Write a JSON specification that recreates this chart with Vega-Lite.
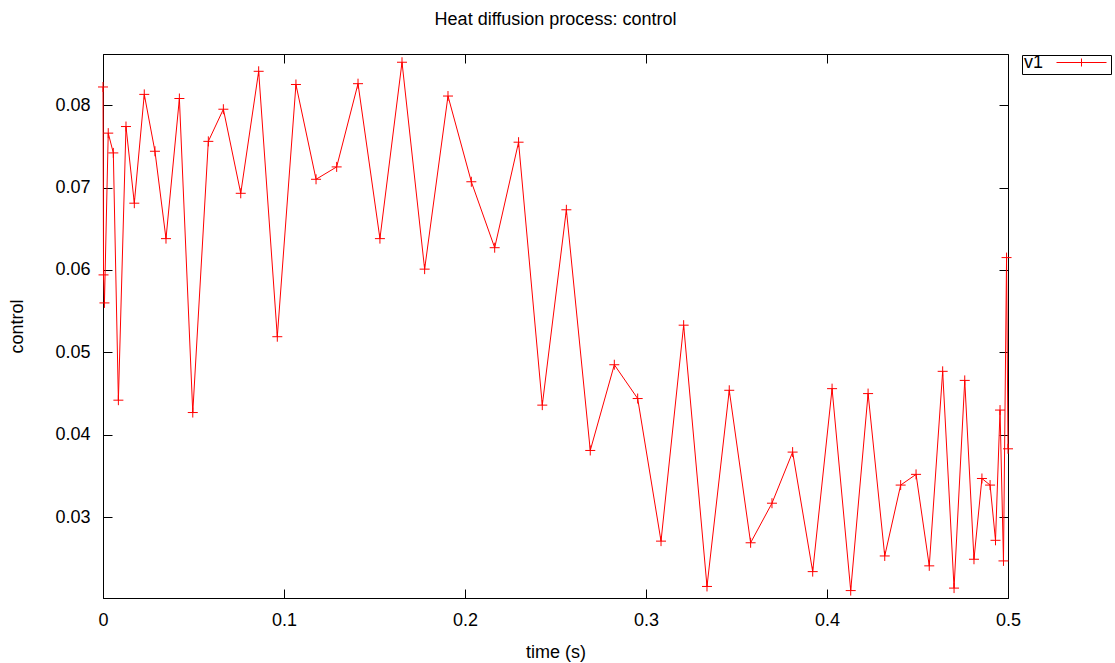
{
  "$schema": "https://vega.github.io/schema/vega-lite/v6.json",
  "autosize": "none",
  "width": 905,
  "height": 544,
  "padding": {"left": 103, "top": 54, "right": 107, "bottom": 65},
  "background": "white",
  "title": {"text": "Heat diffusion process: control", "anchor": "middle", "frame": "group", "font": "Liberation Sans", "fontSize": 18, "fontWeight": "normal", "color": "black", "baseline": "alphabetic", "offset": 11},
  "config": {
    "view": {"stroke": "black", "strokeWidth": 1},
    "axis": {"labelFont": "Liberation Sans", "labelFontSize": 18, "labelColor": "black", "titleFont": "Liberation Sans", "titleFontSize": 18, "titleFontWeight": "normal", "titleColor": "black", "tickColor": "black", "domainColor": "black", "grid": false, "tickSize": -9, "labelPadding": 22, "labelFlush": false}
  },
  "data": {"values": [
    {"time": 0, "control": 0.0822},
    {"time": 0.0003, "control": 0.0594},
    {"time": 0.0008, "control": 0.0560},
    {"time": 0.0029, "control": 0.0766},
    {"time": 0.0057, "control": 0.0742},
    {"time": 0.0085, "control": 0.0442},
    {"time": 0.0127, "control": 0.0774},
    {"time": 0.0173, "control": 0.0681},
    {"time": 0.0228, "control": 0.0813},
    {"time": 0.0287, "control": 0.0744},
    {"time": 0.0348, "control": 0.0638},
    {"time": 0.0422, "control": 0.0808},
    {"time": 0.0496, "control": 0.0427},
    {"time": 0.0582, "control": 0.0756},
    {"time": 0.0665, "control": 0.0795},
    {"time": 0.0761, "control": 0.0693},
    {"time": 0.0860, "control": 0.0841},
    {"time": 0.0963, "control": 0.0519},
    {"time": 0.1066, "control": 0.0825},
    {"time": 0.1177, "control": 0.0710},
    {"time": 0.1291, "control": 0.0725},
    {"time": 0.1409, "control": 0.0826},
    {"time": 0.1530, "control": 0.0638},
    {"time": 0.1652, "control": 0.0852},
    {"time": 0.1777, "control": 0.0601},
    {"time": 0.1906, "control": 0.0811},
    {"time": 0.2035, "control": 0.0707},
    {"time": 0.2164, "control": 0.0627},
    {"time": 0.2296, "control": 0.0755},
    {"time": 0.2427, "control": 0.0436},
    {"time": 0.2560, "control": 0.0673},
    {"time": 0.2692, "control": 0.0381},
    {"time": 0.2825, "control": 0.0485},
    {"time": 0.2954, "control": 0.0444},
    {"time": 0.3083, "control": 0.0271},
    {"time": 0.3208, "control": 0.0533},
    {"time": 0.3337, "control": 0.0216},
    {"time": 0.3460, "control": 0.0454},
    {"time": 0.3578, "control": 0.0269},
    {"time": 0.3696, "control": 0.0317},
    {"time": 0.3810, "control": 0.0379},
    {"time": 0.3921, "control": 0.0234},
    {"time": 0.4028, "control": 0.0456},
    {"time": 0.4131, "control": 0.0211},
    {"time": 0.4227, "control": 0.0450},
    {"time": 0.4319, "control": 0.0253},
    {"time": 0.4407, "control": 0.0339},
    {"time": 0.4492, "control": 0.0352},
    {"time": 0.4565, "control": 0.0241},
    {"time": 0.4639, "control": 0.0477},
    {"time": 0.4702, "control": 0.0214},
    {"time": 0.4761, "control": 0.0466},
    {"time": 0.4812, "control": 0.0249},
    {"time": 0.4856, "control": 0.0347},
    {"time": 0.4901, "control": 0.0339},
    {"time": 0.4931, "control": 0.0272},
    {"time": 0.4956, "control": 0.0430},
    {"time": 0.4975, "control": 0.0247},
    {"time": 0.4992, "control": 0.0615},
    {"time": 0.5, "control": 0.0383}
  ]},
  "layer": [
    {
      "mark": {"type": "line", "color": "#ff0000", "strokeWidth": 1},
      "encoding": {
        "x": {"field": "time", "type": "quantitative", "scale": {"domain": [0, 0.5], "nice": false, "zero": false},
              "axis": {"title": "time (s)", "orient": "bottom", "values": [0, 0.1, 0.2, 0.3, 0.4, 0.5], "labelExpr": "datum.value == 0 ? '0' : format(datum.value, '.1f')", "titlePadding": 14}},
        "y": {"field": "control", "type": "quantitative", "scale": {"domain": [0.0202, 0.0862], "nice": false, "zero": false},
              "axis": {"title": "control", "orient": "left", "values": [0.03, 0.04, 0.05, 0.06, 0.07, 0.08], "format": ".2f", "titlePadding": 28}}
      }
    },
    {
      "mark": {"type": "point", "shape": "M-1,0H1M0,-1V1", "size": 100, "filled": false, "strokeWidth": 1, "opacity": 1},
      "encoding": {
        "x": {"field": "time", "type": "quantitative", "scale": {"domain": [0, 0.5], "nice": false, "zero": false},
              "axis": {"orient": "top", "title": null, "labels": false, "domain": false, "values": [0, 0.1, 0.2, 0.3, 0.4, 0.5]}},
        "y": {"field": "control", "type": "quantitative", "scale": {"domain": [0.0202, 0.0862], "nice": false, "zero": false},
              "axis": {"orient": "right", "title": null, "labels": false, "domain": false, "values": [0.03, 0.04, 0.05, 0.06, 0.07, 0.08]}},
        "color": {"datum": "v1", "type": "nominal", "scale": {"range": ["#ff0000"]},
                  "legend": {"title": "v1", "titleOrient": "left", "titleFont": "Liberation Sans", "titleFontSize": 18, "titleFontWeight": "normal", "titleColor": "black", "titlePadding": 32, "orient": "none", "legendX": 919, "legendY": 1, "symbolType": "M-5,0H5M0,-0.8V0.8", "symbolSize": 100, "symbolStrokeWidth": 1, "symbolStrokeColor": "#ff0000", "symbolFillColor": "transparent", "labelExpr": "''", "labelOffset": 0, "strokeColor": "black", "padding": 2}}
      }
    }
  ],
  "resolve": {"axis": {"x": "independent", "y": "independent"}}
}
